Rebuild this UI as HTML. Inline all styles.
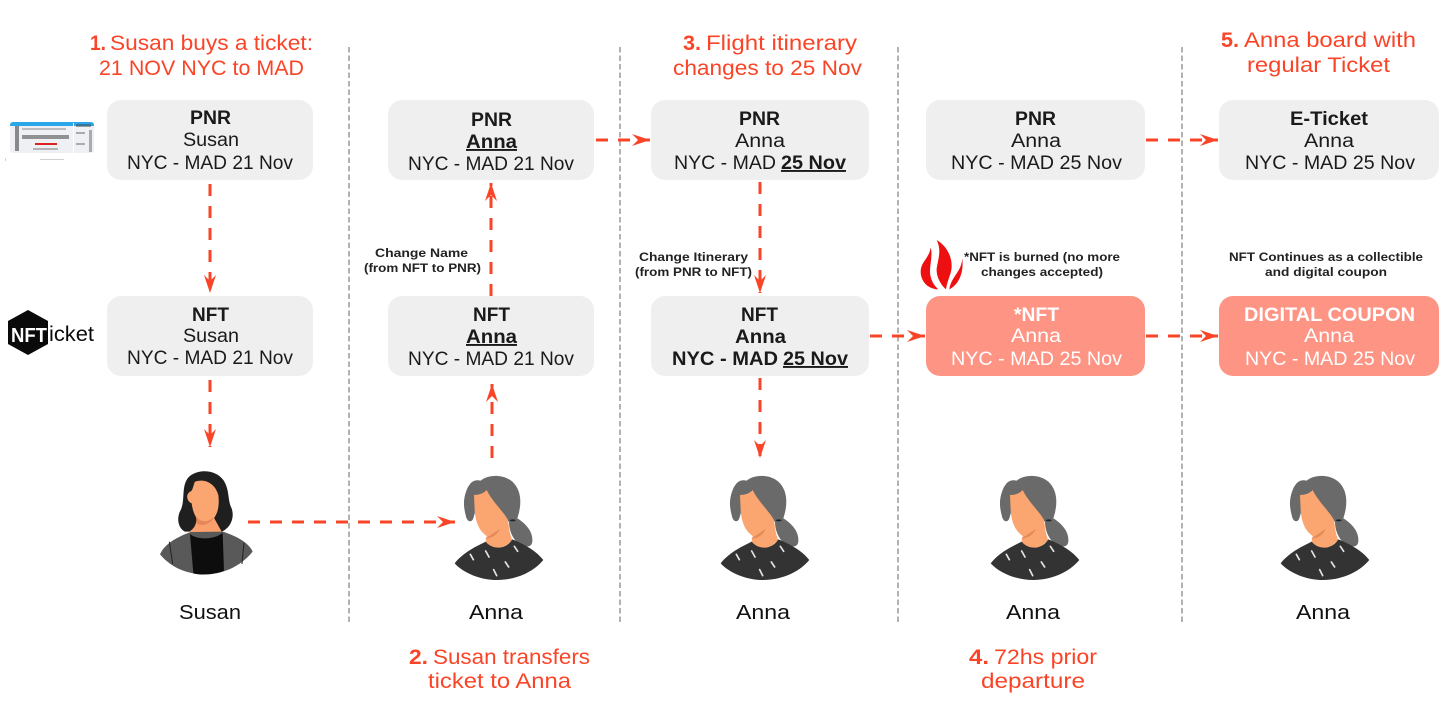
<!DOCTYPE html>
<html><head><meta charset="utf-8"><style>
html,body{margin:0;padding:0;background:#fff}
svg{display:block}
text{font-family:"Liberation Sans",sans-serif}
.b{font-weight:700}
.box{font-size:19px;fill:#1a1a1a}
.w{font-size:19px;fill:#fff}
.h{font-size:21px;fill:#fa4427}
.n{font-size:20px;fill:#111}
.s{font-size:11.5px;font-weight:700;fill:#222}
.u{text-decoration:underline}
</style></head><body>
<svg width="1456" height="713" viewBox="0 0 1456 713" xmlns="http://www.w3.org/2000/svg">
<defs>
<marker id="a" markerUnits="userSpaceOnUse" markerWidth="24" markerHeight="20" refX="18" refY="8" orient="auto">
<path d="M0 2 L18 8 L0 14 L6 8 Z" fill="#fa4427"/>
</marker>
<g id="anna" transform="scale(.3333)">
<path d="M92 110C100 75 115 55 140 62C160 45 205 40 235 65C262 90 265 130 250 175C275 190 298 215 295 245C293 258 285 262 270 258C240 250 225 215 225 185L125 150L118 175C112 190 98 185 95 165C90 145 88 130 92 110Z" fill="#6a6a6a"/>
<path d="M120 105C135 105 150 100 158 90C175 125 205 150 222 180C225 200 226 220 235 240C200 275 175 270 155 245L158 228C140 215 125 195 122 150Z" fill="#fba670"/>
<path d="M155 235L197 207C190 225 175 233 155 237Z" fill="#e5885a"/>
<ellipse cx="236" cy="181" rx="9" ry="3" fill="#1d2530"/>
<path d="M62 310C90 275 130 258 155 245C175 270 215 270 235 238C265 250 305 270 328 300C295 340 240 360 190 360C140 360 90 340 62 310Z" fill="#333"/>
<g stroke="#e4e4e4" stroke-width="5" stroke-linecap="round"><path d="M109 283L118 299M155 273L165 291M241 259L251 274M214 306L224 321M179 329L188 347"/></g>
</g>
<g id="susan" transform="scale(.3333)">
<path d="M110 60C125 30 190 20 220 60C240 90 232 120 245 145C255 175 240 205 215 215L105 215C85 205 78 175 92 150C105 125 95 85 110 60Z" fill="#1f1f1f"/>
<path d="M140 170L190 170L215 215C200 240 140 240 118 215C135 205 140 190 140 170Z" fill="#fba06d"/>
<path d="M135 65C165 55 195 70 205 105C210 145 200 175 175 190C150 198 130 170 125 130C112 125 105 105 120 95C128 95 130 75 135 65Z" fill="#fba670"/>
<path d="M138 170C150 185 170 190 190 172C185 195 150 200 140 190Z" fill="#e5885a"/>
<path d="M30 283C45 248 90 228 122 216L218 215C250 225 295 245 308 275C270 322 215 343 165 343C115 343 65 325 30 283Z" fill="#595959"/>
<path d="M120 222C140 240 195 240 218 218L222 332C195 345 150 346 130 340Z" fill="#0d0d0d"/>
<path d="M58 245L68 312M282 248L276 312" stroke="#222" stroke-width="3" fill="none"/>
</g>
</defs>

<!-- dividers -->
<g stroke="#a0a0a0" stroke-width="1.6" stroke-dasharray="5.5 3" fill="none">
<path d="M349 47V625M620 47V625M898 47V625M1182 47V625"/>
</g>

<!-- boxes -->
<g fill="#efefef">
<rect x="107" y="100" width="206" height="80" rx="14"/>
<rect x="107" y="296" width="206" height="80" rx="14"/>
<rect x="388" y="100" width="206" height="80" rx="14"/>
<rect x="388" y="296" width="206" height="80" rx="14"/>
<rect x="651" y="100" width="218" height="80" rx="14"/>
<rect x="651" y="296" width="218" height="80" rx="14"/>
<rect x="926" y="100" width="219" height="80" rx="14"/>
<rect x="1219" y="100" width="220" height="80" rx="14"/>
</g>
<g fill="#fe9484">
<rect x="926" y="296" width="219" height="80" rx="14"/>
<rect x="1219" y="296" width="220" height="80" rx="14"/>
</g>

<!-- arrows -->
<g stroke="#fa4427" stroke-width="3" stroke-dasharray="12 10" fill="none">
<path d="M210 184V293" marker-end="url(#a)"/>
<path d="M210 380V447" marker-end="url(#a)"/>
<path d="M491 296V183" marker-end="url(#a)"/>
<path d="M492 458V384" marker-end="url(#a)"/>
<path d="M760 182V293" marker-end="url(#a)"/>
<path d="M760 378V458" marker-end="url(#a)"/>
<path d="M596 140H650" marker-end="url(#a)"/>
<path d="M1146 140H1218" marker-end="url(#a)"/>
<path d="M870 336H925" marker-end="url(#a)"/>
<path d="M1146 336H1218" marker-end="url(#a)"/>
<path d="M248 522H455" marker-end="url(#a)"/>
</g>

<!-- box text -->
<g class="box">
<text class="b" x="190" y="124" textLength="41" lengthAdjust="spacingAndGlyphs">PNR</text>
<text x="183" y="146" textLength="56" lengthAdjust="spacingAndGlyphs">Susan</text>
<text x="127" y="169" textLength="166" lengthAdjust="spacingAndGlyphs">NYC - MAD 21 Nov</text>
<text class="b" x="192" y="321" textLength="37" lengthAdjust="spacingAndGlyphs">NFT</text>
<text x="183" y="342" textLength="56" lengthAdjust="spacingAndGlyphs">Susan</text>
<text x="127" y="364" textLength="166" lengthAdjust="spacingAndGlyphs">NYC - MAD 21 Nov</text>

<text class="b" x="471" y="126" textLength="41" lengthAdjust="spacingAndGlyphs">PNR</text>
<text class="b u" x="466" y="148" textLength="51" lengthAdjust="spacingAndGlyphs">Anna</text>
<text x="408" y="170" textLength="166" lengthAdjust="spacingAndGlyphs">NYC - MAD 21 Nov</text>
<text class="b" x="473" y="321" textLength="37" lengthAdjust="spacingAndGlyphs">NFT</text>
<text class="b u" x="466" y="343" textLength="51" lengthAdjust="spacingAndGlyphs">Anna</text>
<text x="408" y="365" textLength="166" lengthAdjust="spacingAndGlyphs">NYC - MAD 21 Nov</text>

<text class="b" x="739" y="125" textLength="41" lengthAdjust="spacingAndGlyphs">PNR</text>
<text x="735" y="147" textLength="50" lengthAdjust="spacingAndGlyphs">Anna</text>
<text x="674" y="169" textLength="102" lengthAdjust="spacingAndGlyphs">NYC - MAD</text>
<text class="b u" x="781" y="169" textLength="65" lengthAdjust="spacingAndGlyphs">25 Nov</text>
<text class="b" x="741" y="321" textLength="37" lengthAdjust="spacingAndGlyphs">NFT</text>
<text class="b" x="735" y="343" textLength="51" lengthAdjust="spacingAndGlyphs">Anna</text>
<text class="b" x="672" y="365" textLength="106" lengthAdjust="spacingAndGlyphs">NYC - MAD</text>
<text class="b u" x="783" y="365" textLength="65" lengthAdjust="spacingAndGlyphs">25 Nov</text>

<text class="b" x="1015" y="125" textLength="41" lengthAdjust="spacingAndGlyphs">PNR</text>
<text x="1011" y="147" textLength="50" lengthAdjust="spacingAndGlyphs">Anna</text>
<text x="951" y="169" textLength="171" lengthAdjust="spacingAndGlyphs">NYC - MAD 25 Nov</text>

<text class="b" x="1290" y="125" textLength="78" lengthAdjust="spacingAndGlyphs">E-Ticket</text>
<text x="1304" y="147" textLength="50" lengthAdjust="spacingAndGlyphs">Anna</text>
<text x="1245" y="169" textLength="170" lengthAdjust="spacingAndGlyphs">NYC - MAD 25 Nov</text>
</g>
<g class="w">
<text class="b" x="1014" y="321" textLength="45" lengthAdjust="spacingAndGlyphs">*NFT</text>
<text x="1011" y="342" textLength="50" lengthAdjust="spacingAndGlyphs">Anna</text>
<text x="951" y="365" textLength="171" lengthAdjust="spacingAndGlyphs">NYC - MAD 25 Nov</text>
<text class="b" x="1244" y="321" textLength="171" lengthAdjust="spacingAndGlyphs">DIGITAL COUPON</text>
<text x="1304" y="342" textLength="50" lengthAdjust="spacingAndGlyphs">Anna</text>
<text x="1245" y="365" textLength="170" lengthAdjust="spacingAndGlyphs">NYC - MAD 25 Nov</text>
</g>

<!-- headings -->
<g class="h">
<text class="b" x="90" y="50" textLength="16" lengthAdjust="spacingAndGlyphs">1.</text>
<text x="110" y="50" textLength="203" lengthAdjust="spacingAndGlyphs">Susan buys a ticket:</text>
<text x="99" y="75" textLength="205" lengthAdjust="spacingAndGlyphs">21 NOV NYC to MAD</text>
<text class="b" x="409" y="664" textLength="19" lengthAdjust="spacingAndGlyphs">2.</text>
<text x="433" y="664" textLength="157" lengthAdjust="spacingAndGlyphs">Susan transfers</text>
<text x="428" y="688" textLength="143" lengthAdjust="spacingAndGlyphs">ticket to Anna</text>
<text class="b" x="683" y="50" textLength="18" lengthAdjust="spacingAndGlyphs">3.</text>
<text x="706" y="50" textLength="151" lengthAdjust="spacingAndGlyphs">Flight itinerary</text>
<text x="673" y="75" textLength="189" lengthAdjust="spacingAndGlyphs">changes to 25 Nov</text>
<text class="b" x="969" y="664" textLength="20" lengthAdjust="spacingAndGlyphs">4.</text>
<text x="994" y="664" textLength="103" lengthAdjust="spacingAndGlyphs">72hs prior</text>
<text x="981" y="688" textLength="104" lengthAdjust="spacingAndGlyphs">departure</text>
<text class="b" x="1221" y="47" textLength="18" lengthAdjust="spacingAndGlyphs">5.</text>
<text x="1244" y="47" textLength="172" lengthAdjust="spacingAndGlyphs">Anna board with</text>
<text x="1247" y="72" textLength="143" lengthAdjust="spacingAndGlyphs">regular Ticket</text>
</g>

<!-- small labels -->
<g class="s">
<text x="375" y="257" textLength="93" lengthAdjust="spacingAndGlyphs">Change Name</text>
<text x="364" y="272" textLength="117" lengthAdjust="spacingAndGlyphs">(from NFT to PNR)</text>
<text x="639" y="261" textLength="109" lengthAdjust="spacingAndGlyphs">Change Itinerary</text>
<text x="635" y="276" textLength="117" lengthAdjust="spacingAndGlyphs">(from PNR to NFT)</text>
<text x="964" y="261" textLength="156" lengthAdjust="spacingAndGlyphs">*NFT is burned (no more</text>
<text x="981" y="276" textLength="122" lengthAdjust="spacingAndGlyphs">changes accepted)</text>
<text x="1229" y="261" textLength="194" lengthAdjust="spacingAndGlyphs">NFT Continues as a collectible</text>
<text x="1265" y="276" textLength="122" lengthAdjust="spacingAndGlyphs">and digital coupon</text>
</g>

<!-- names -->
<g class="n">
<text x="179" y="619" textLength="62" lengthAdjust="spacingAndGlyphs">Susan</text>
<text x="469" y="619" textLength="54" lengthAdjust="spacingAndGlyphs">Anna</text>
<text x="736" y="619" textLength="54" lengthAdjust="spacingAndGlyphs">Anna</text>
<text x="1006" y="619" textLength="54" lengthAdjust="spacingAndGlyphs">Anna</text>
<text x="1296" y="619" textLength="54" lengthAdjust="spacingAndGlyphs">Anna</text>
</g>

<!-- avatars -->
<use href="#susan" transform="translate(150,460)"/>
<use href="#anna" transform="translate(434,460)"/>
<use href="#anna" transform="translate(700,460)"/>
<use href="#anna" transform="translate(970,460)"/>
<use href="#anna" transform="translate(1260,460)"/>

<!-- flame -->
<g transform="translate(900,230) scale(.3333)" fill="#ee1010">
<path d="M92 52C100 85 85 110 92 140C95 155 105 170 115 178C85 178 62 155 62 125C62 95 88 85 92 52Z"/>
<path d="M110 30C145 50 165 95 150 135C143 155 140 165 138 178C128 170 108 145 110 115C115 85 125 60 110 30Z"/>
<path d="M187 85C192 130 175 165 148 178C150 160 160 145 170 130C180 115 185 105 187 85Z"/>
</g>

<!-- ticket -->
<g>
<rect x="10" y="122" width="84" height="31" rx="3" fill="#eef0f3"/>
<path d="M10 125a3 3 0 0 1 3-3h78a3 3 0 0 1 3 3v1H10Z" fill="#2aa7e8"/>
<rect x="73" y="123" width="1" height="30" fill="#fff"/>
<g fill="#444">
<rect x="15" y="126" width="4" height="25" opacity=".6"/>
<rect x="22" y="135" width="47" height="4" opacity=".55"/>
<rect x="22" y="128" width="44" height="2" opacity=".3"/>
<rect x="76" y="124" width="15" height="3" opacity=".5"/>
<rect x="76" y="132" width="9" height="2" opacity=".4"/>
<rect x="76" y="143" width="9" height="2" opacity=".4"/>
<rect x="89" y="130" width="3" height="22" opacity=".4"/>
<rect x="33" y="148" width="25" height="2" opacity=".35"/>
<rect x="40" y="159" width="24" height="1" opacity=".25"/>
<rect x="5" y="158" width="1" height="3" opacity=".25"/>
</g>
<rect x="35" y="143" width="22" height="2" fill="#d22"/>
</g>

<!-- NFTicket logo -->
<path d="M28 310L48 321V344L28 355L8 344V321Z" fill="#0a0a0a"/>
<text x="11" y="342" font-size="20" font-weight="700" fill="#fff" textLength="36" lengthAdjust="spacingAndGlyphs">NFT</text>
<text x="49" y="341" font-size="21" fill="#0a0a0a" textLength="45" lengthAdjust="spacingAndGlyphs">icket</text>
</svg>
</body></html>
